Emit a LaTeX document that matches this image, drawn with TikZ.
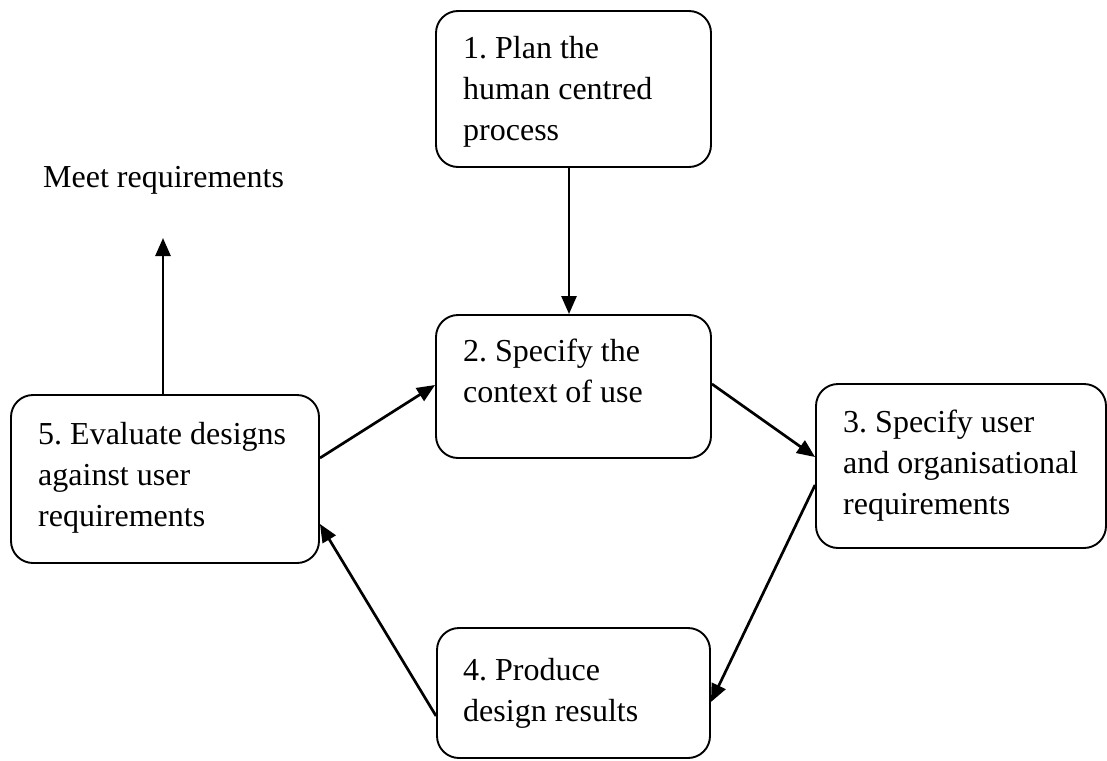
\documentclass[tikz,border=0pt]{standalone}
\usepackage{fontspec}
\setmainfont{Liberation Serif}
\usetikzlibrary{arrows.meta}
\begin{document}
\frenchspacing
\begin{tikzpicture}[x=1pt,y=-1pt,
  stagebox/.style={draw, line width=1.9pt, rounded corners=22pt, inner sep=0pt},
  label/.style={anchor=base west, inner sep=0pt, align=left, font=\fontsize{32}{41}\selectfont},
  flow/.style={line width=2.7pt, -{Triangle[length=18pt,width=15pt]}}]
\useasboundingbox (0,0) rectangle (1107,760);
% boxes
\node[stagebox, minimum width=275pt, minimum height=156pt] (b1) at (573.5,89) {};
\node[stagebox, minimum width=275pt, minimum height=143pt] (b2) at (573.5,386.5) {};
\node[stagebox, minimum width=290pt, minimum height=164pt] (b3) at (961,466) {};
\node[stagebox, minimum width=273pt, minimum height=130pt] (b4) at (573.5,693) {};
\node[stagebox, minimum width=308pt, minimum height=168pt] (b5) at (165,479) {};
% texts (anchor = baseline of the last line)
\node[label] (t1) at (463,140) {1. Plan the\\human centred\\process};
\node[label] (t2) at (463,402) {2. Specify the\\context of use};
\node[label] (t3) at (843,514) {3. Specify user\\and organisational\\requirements};
\node[label] (t4) at (463,721) {4. Produce\\design results};
\node[label] (t5) at (38,526) {5. Evaluate designs\\against user\\requirements};
\node[label] (meet) at (43,187) {Meet requirements};
\coordinate (meettip) at (163,238);
% connectors
\draw[flow] ([xshift=-2pt]b5.north) -- (meettip);
\draw[flow] ([xshift=-4.5pt]b1.south) -- ([xshift=-4.5pt]b2.north);
\draw[flow] ([yshift=21pt]b5.east) -- ([yshift=1.5pt]b2.west);
\draw[flow] ([yshift=2.5pt]b2.east) -- ([yshift=9pt]b3.west);
\draw[flow] ([yshift=-19pt]b3.west) -- ([yshift=-9pt]b4.east);
\draw[flow] ([yshift=-23pt]b4.west) -- ([yshift=-45pt]b5.east);
\end{tikzpicture}
\end{document}
